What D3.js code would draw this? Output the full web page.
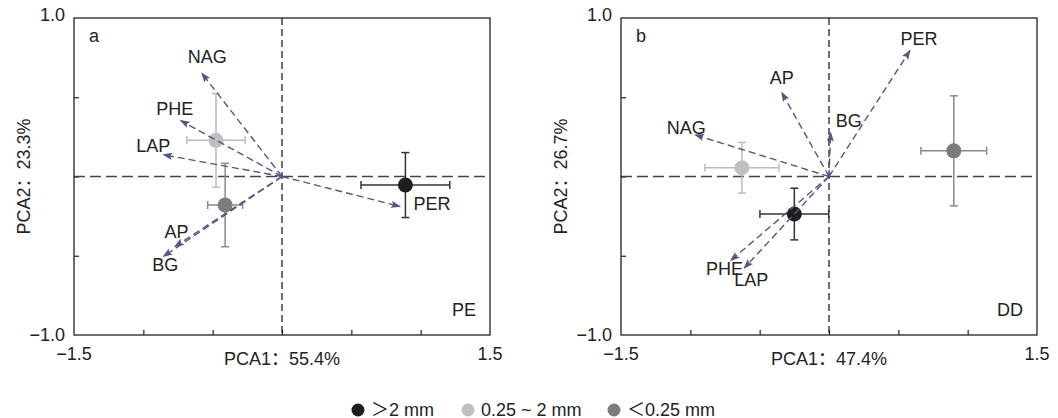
<!DOCTYPE html>
<html>
<head>
<meta charset="utf-8">
<script src="https://cdn.jsdelivr.net/npm/d3@7"></script>
<style>
  body { margin: 0; background: #fff; }
  text { font-family: "Liberation Sans", Arial, "Noto Sans CJK SC", sans-serif; fill: #222; }
</style>
</head>
<body>
<div id="chart"></div>
<script>
// ---- data ----
let panelIds = ["a", "b"];
let panelTags = ["PE", "DD"];
let pca1 = [55.4, 47.4];
let pca2 = [23.3, 26.7];
let sizeClasses = ["＞2 mm", "0.25 ~ 2 mm", "＜0.25 mm"];
let sizeColors = ["#1e1e1e", "#c0c0c0", "#7c7c7c"];
let barColors = ["#333333", "#bcbcbc", "#8a8a8a"];

// scores (mean ± error) for the three size classes
let scoreAx = [0.89, -0.476, -0.41];
let scoreAy = [-0.054, 0.228, -0.18];
let errAx = [0.32, 0.21, 0.126];
let errAy = [0.205, 0.296, 0.263];
let scoreBx = [-0.25, -0.628, 0.9];
let scoreBy = [-0.237, 0.055, 0.162];
let errBx = [0.248, 0.267, 0.237];
let errBy = [0.163, 0.16, 0.347];

// enzyme loadings
let enzymes = ["NAG", "PHE", "LAP", "AP", "BG", "PER"];
let loadAx = [-0.579, -0.731, -0.856, -0.772, -0.856, 0.851];
let loadAy = [0.652, 0.353, 0.137, -0.442, -0.505, -0.189];
let loadBx = [-0.966, -0.709, -0.611, -0.341, 0.012, 0.584];
let loadBy = [0.263, -0.53, -0.578, 0.53, 0.278, 0.795];

let xTicks = [-1.5, -1, -0.5, 0, 0.5, 1, 1.5];
let yTicks = [-1, -0.5, 0, 0.5, 1];

// label nudges in px (text centre relative to arrow tip)
let labelNudge = [
    { NAG: [5.5, -17], PHE: [-6, -12.5], LAP: [-10, -9.5], AP: [1.5, -15], BG: [2, 8], PER: [32, -3] },
    { NAG: [-8.7, -7.7], PHE: [-6.2, 8], LAP: [7, 11], AP: [0, -14.7], BG: [18, -12.4], PER: [9, -12] }
];

let width = 1058, height = 418;
let plotW = 416, plotH = 317;
let lefts = [74, 621];
let plotTop = 18;
let arrowColor = "#56557e";

let svg = d3.select("#chart").append("svg")
    .attr("width", width)
    .attr("height", height);

svg.append("defs").append("marker")
    .attr("id", "head")
    .attr("viewBox", "0 -5 10 10")
    .attr("markerUnits", "userSpaceOnUse")
    .attr("markerWidth", 10)
    .attr("markerHeight", 10)
    .attr("refX", 9)
    .attr("refY", 0)
    .attr("orient", "auto")
    .append("path")
    .attr("d", "M0,-3.6L10,0L0,3.6L2,0Z")
    .attr("fill", arrowColor);

let panelData = [
    { sx: scoreAx, sy: scoreAy, ex: errAx, ey: errAy, lx: loadAx, ly: loadAy },
    { sx: scoreBx, sy: scoreBy, ex: errBx, ey: errBy, lx: loadBx, ly: loadBy }
];

panelIds.forEach(function (id, p) {
    let pd = panelData[p];
    let g = svg.append("g").attr("transform", "translate(" + lefts[p] + "," + plotTop + ")");
    let x = d3.scaleLinear().domain([-1.5, 1.5]).range([0, plotW]);
    let y = d3.scaleLinear().domain([-1, 1]).range([plotH, 0]);

    // inward ticks
    g.append("g")
        .attr("transform", "translate(0," + plotH + ")")
        .call(d3.axisTop(x).tickValues(xTicks.slice(1, -1)).tickSize(5).tickFormat(""))
        .call(a => a.select(".domain").remove())
        .selectAll("line").attr("stroke", "#222").attr("stroke-width", 1.2);
    g.append("g")
        .call(d3.axisRight(y).tickValues(yTicks.slice(1, -1)).tickSize(5).tickFormat(""))
        .call(a => a.select(".domain").remove())
        .selectAll("line").attr("stroke", "#222").attr("stroke-width", 1.2);

    // end labels only
    g.selectAll(".xl").data([xTicks[0], xTicks[xTicks.length - 1]]).enter()
        .append("text")
        .attr("x", d => x(d)).attr("y", plotH + 25)
        .attr("text-anchor", "middle")
        .style("font-size", "18px")
        .text(d => d3.format(".1f")(d).replace("-", "−"));
    g.selectAll(".yl").data([yTicks[0], yTicks[yTicks.length - 1]]).enter()
        .append("text")
        .attr("x", -9).attr("y", d => y(d))
        .attr("dy", d => d > 0 ? "0.15em" : "0.35em")
        .attr("text-anchor", "end")
        .style("font-size", "18px")
        .text(d => d3.format(".1f")(d).replace("-", "−"));

    // zero reference lines
    g.append("line")
        .attr("x1", 0).attr("x2", plotW).attr("y1", y(0)).attr("y2", y(0))
        .attr("stroke", "#444").attr("stroke-width", 1.4).attr("stroke-dasharray", "11,5");
    g.append("line")
        .attr("x1", x(0)).attr("x2", x(0)).attr("y1", 0).attr("y2", plotH)
        .attr("stroke", "#222").attr("stroke-width", 1.3).attr("stroke-dasharray", "7,4");

    // error bars and points
    let pts = sizeClasses.map((s, i) => ({ i: i, x: pd.sx[i], y: pd.sy[i], ex: pd.ex[i], ey: pd.ey[i] }));
    let cap = 4;
    pts.forEach(function (d) {
        let e = g.append("g").attr("stroke", barColors[d.i]).attr("stroke-width", 1.5);
        e.append("line").attr("x1", x(d.x - d.ex)).attr("x2", x(d.x + d.ex)).attr("y1", y(d.y)).attr("y2", y(d.y));
        e.append("line").attr("x1", x(d.x)).attr("x2", x(d.x)).attr("y1", y(d.y - d.ey)).attr("y2", y(d.y + d.ey));
        [d.x - d.ex, d.x + d.ex].forEach(v => e.append("line")
            .attr("x1", x(v)).attr("x2", x(v)).attr("y1", y(d.y) - cap).attr("y2", y(d.y) + cap));
        [d.y - d.ey, d.y + d.ey].forEach(v => e.append("line")
            .attr("y1", y(v)).attr("y2", y(v)).attr("x1", x(d.x) - cap).attr("x2", x(d.x) + cap));
    });
    g.selectAll(".pt").data(pts).enter()
        .append("circle")
        .attr("cx", d => x(d.x)).attr("cy", d => y(d.y))
        .attr("r", 7.5)
        .attr("fill", d => sizeColors[d.i]);

    // loading arrows
    let loads = enzymes.map((e, i) => ({ name: e, x: pd.lx[i], y: pd.ly[i] }));
    g.selectAll(".arr").data(loads).enter()
        .append("line")
        .attr("x1", x(0)).attr("y1", y(0))
        .attr("x2", d => x(d.x)).attr("y2", d => y(d.y))
        .attr("stroke", arrowColor).attr("stroke-width", 1.4)
        .attr("stroke-dasharray", "7,4")
        .attr("marker-end", "url(#head)");
    g.selectAll(".lab").data(loads).enter()
        .append("text")
        .attr("x", d => x(d.x) + labelNudge[p][d.name][0])
        .attr("y", d => y(d.y) + labelNudge[p][d.name][1])
        .attr("dy", "0.36em")
        .attr("text-anchor", "middle")
        .style("font-size", "18px")
        .text(d => d.name);

    // panel letter & tag
    g.append("text").attr("x", 15).attr("y", 23.5).style("font-size", "18px").text(id);
    g.append("text").attr("x", plotW - 14).attr("y", 297.5).attr("text-anchor", "end")
        .style("font-size", "18px").text(panelTags[p]);

    // frame
    g.append("rect").attr("width", plotW).attr("height", plotH)
        .attr("fill", "none").attr("stroke", "#222").attr("stroke-width", 1.3);

    // axis titles
    g.append("text")
        .attr("x", plotW / 2).attr("y", 365 - plotTop)
        .attr("text-anchor", "middle")
        .style("font-size", "18px")
        .text("PCA1：" + pca1[p] + "%");
    g.append("text")
        .attr("transform", "translate(" + (p === 0 ? -44 : -54.5) + "," + (plotH / 2) + ") rotate(-90)")
        .attr("text-anchor", "middle")
        .style("font-size", "18px")
        .text("PCA2：" + pca2[p] + "%");
});

// legend
let legendX = [358, 468, 614];
let legend = svg.append("g").attr("transform", "translate(0,410)");
sizeClasses.forEach(function (s, i) {
    legend.append("circle").attr("cx", legendX[i]).attr("cy", 0).attr("r", 6.5).attr("fill", sizeColors[i]);
    legend.append("text").attr("x", legendX[i] + 13).attr("y", 5.5)
        .style("font-size", "18px").text(s);
});
</script>
</body>
</html>
